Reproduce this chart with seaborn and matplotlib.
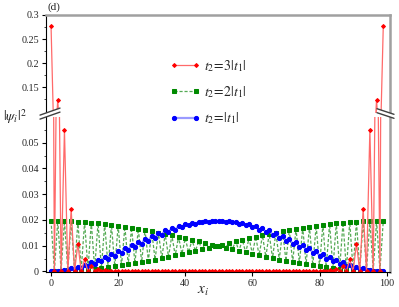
import numpy as np
import matplotlib
matplotlib.use("Agg")
import matplotlib.pyplot as plt
import seaborn as sns
from matplotlib.lines import Line2D
from matplotlib.patches import Polygon
from matplotlib.ticker import FuncFormatter

sns.set_style("ticks")
plt.rcParams["font.family"] = ["Liberation Serif", "DejaVu Serif"]
plt.rcParams["mathtext.fontset"] = "stix"

# site index
sites = np.arange(100)

# |psi_i|^2 for t2 = 3|t1| (edge states)
red_t3 = [
    0.278, 0.0, 0.124, 0.0, 0.055, 0.0, 0.0243, 0.0, 0.0108, 0.0,
    0.0047, 0.0, 0.0021, 0.0, 0.0009, 0.0, 0.0004, 0.0, 0.0002, 0.0,
    0.0, 0.0, 0.0, 0.0, 0.0, 0.0, 0.0, 0.0, 0.0, 0.0,
    0.0, 0.0, 0.0, 0.0, 0.0, 0.0, 0.0, 0.0, 0.0, 0.0,
    0.0, 0.0, 0.0, 0.0, 0.0, 0.0, 0.0, 0.0, 0.0, 0.0,
    0.0, 0.0, 0.0, 0.0, 0.0, 0.0, 0.0, 0.0, 0.0, 0.0,
    0.0, 0.0, 0.0, 0.0, 0.0, 0.0, 0.0, 0.0, 0.0, 0.0,
    0.0, 0.0, 0.0, 0.0, 0.0, 0.0, 0.0, 0.0, 0.0, 0.0,
    0.0, 0.0002, 0.0, 0.0004, 0.0, 0.0009, 0.0, 0.0021, 0.0, 0.0047,
    0.0, 0.0108, 0.0, 0.0243, 0.0, 0.055, 0.0, 0.124, 0.0, 0.278,
]

# t2 = 2|t1|
green_t2 = [
    0.01970, 0.00030, 0.01968, 0.00034, 0.01962, 0.00042, 0.01952, 0.00054, 0.01939, 0.00069,
    0.01922, 0.00088, 0.01901, 0.00111, 0.01876, 0.00138, 0.01848, 0.00168, 0.01816, 0.00201,
    0.01781, 0.00237, 0.01743, 0.00277, 0.01702, 0.00320, 0.01658, 0.00365, 0.01612, 0.00413,
    0.01563, 0.00463, 0.01511, 0.00515, 0.01458, 0.00569, 0.01403, 0.00625, 0.01346, 0.00683,
    0.01288, 0.00741, 0.01229, 0.00801, 0.01168, 0.00862, 0.01107, 0.00923, 0.01046, 0.00985,
    0.00985, 0.01046, 0.00923, 0.01107, 0.00862, 0.01168, 0.00801, 0.01229, 0.00741, 0.01288,
    0.00683, 0.01346, 0.00625, 0.01403, 0.00569, 0.01458, 0.00515, 0.01511, 0.00463, 0.01563,
    0.00413, 0.01612, 0.00365, 0.01658, 0.00320, 0.01702, 0.00277, 0.01743, 0.00237, 0.01781,
    0.00201, 0.01816, 0.00168, 0.01848, 0.00138, 0.01876, 0.00111, 0.01901, 0.00088, 0.01922,
    0.00069, 0.01939, 0.00054, 0.01952, 0.00042, 0.01962, 0.00034, 0.01968, 0.00030, 0.01970,
]

# t2 = |t1|
blue_t1 = [
    0.00006, 0.00001, 0.00030, 0.00013, 0.00068, 0.00041, 0.00121, 0.00086, 0.00187, 0.00143,
    0.00264, 0.00212, 0.00354, 0.00296, 0.00453, 0.00388, 0.00560, 0.00490, 0.00674, 0.00600,
    0.00792, 0.00714, 0.00912, 0.00834, 0.01035, 0.00956, 0.01155, 0.01078, 0.01274, 0.01198,
    0.01388, 0.01317, 0.01495, 0.01428, 0.01596, 0.01534, 0.01685, 0.01630, 0.01765, 0.01716,
    0.01832, 0.01791, 0.01886, 0.01854, 0.01926, 0.01903, 0.01952, 0.01938, 0.01962, 0.01958,
    0.01958, 0.01962, 0.01938, 0.01952, 0.01903, 0.01926, 0.01854, 0.01886, 0.01791, 0.01832,
    0.01716, 0.01765, 0.01630, 0.01685, 0.01534, 0.01596, 0.01428, 0.01495, 0.01317, 0.01388,
    0.01198, 0.01274, 0.01078, 0.01155, 0.00956, 0.01035, 0.00834, 0.00912, 0.00714, 0.00792,
    0.00600, 0.00674, 0.00490, 0.00560, 0.00388, 0.00453, 0.00296, 0.00354, 0.00212, 0.00264,
    0.00143, 0.00187, 0.00086, 0.00121, 0.00041, 0.00068, 0.00013, 0.00030, 0.00001, 0.00006,
]

legend_labels = [r"$t_2\!=\!3|t_1|$", r"$t_2\!=\!2|t_1|$", r"$t_2\!=\!|t_1|$"]
xticks = [0, 20, 40, 60, 80, 100]
yticks_low = [0, 0.01, 0.02, 0.03, 0.04, 0.05]
yticks_high = [0.15, 0.2, 0.25, 0.3]

W, H = 399, 307
fig = plt.figure(figsize=(W / 100, H / 100), dpi=100)


def box(x0, y0, x1, y1):
    return [x0 / W, 1 - y1 / H, (x1 - x0) / W, (y1 - y0) / H]


ax_top = fig.add_axes(box(46, 15, 390, 113))
ax_bot = fig.add_axes(box(46, 117, 390, 272))

common = dict(estimator=None, errorbar=None, legend=False)

sns.lineplot(x=sites, y=green_t2, ax=ax_bot, color="#55aa55", lw=0.9,
             linestyle=(0, (2.5, 1.5)), marker="s", markersize=2.5,
             markerfacecolor="#008a00", markeredgecolor="#008a00", **common)
sns.lineplot(x=sites, y=blue_t1, ax=ax_bot, color="#9a9aff", lw=1.6,
             marker="o", markersize=3.0,
             markerfacecolor="#0000ff", markeredgecolor="#0000ff", **common)
for ax in (ax_bot, ax_top):
    sns.lineplot(x=sites, y=red_t3, ax=ax, color="#ff6a6a", lw=0.9,
                 marker="D", markersize=2.0,
                 markerfacecolor="#ff0000", markeredgecolor="#ff0000", **common)

fmt = FuncFormatter(lambda v, p: f"{v:g}")
for ax in (ax_top, ax_bot):
    ax.set_xlim(-1.5, 101)
    ax.set_xlabel("")
    ax.set_ylabel("")
    ax.yaxis.set_major_formatter(fmt)
    ax.tick_params(which="major", direction="out", length=3, width=0.8,
                   labelsize=7.3, pad=2, color="black")
    ax.tick_params(which="minor", direction="out", length=1.5, width=0.6)
    ax.spines["left"].set_color("black")
    ax.spines["left"].set_linewidth(0.8)
    ax.spines["right"].set_color("#a0a0a0")
    ax.spines["right"].set_linewidth(1.8)

ax_top.set_ylim(0.096, 0.3)
ax_top.set_yticks(yticks_high)
ax_top.set_yticks([0.125, 0.175, 0.225, 0.275], minor=True)
ax_top.spines["bottom"].set_visible(False)
ax_top.spines["top"].set_color("#a0a0a0")
ax_top.spines["top"].set_linewidth(1.8)
ax_top.tick_params(axis="x", which="both", bottom=False, labelbottom=False)

ax_bot.set_ylim(-0.0002, 0.06)
ax_bot.set_yticks(yticks_low)
ax_bot.set_yticks([0.005, 0.015, 0.025, 0.035, 0.045, 0.055], minor=True)
ax_bot.set_xticks(xticks)
ax_bot.spines["top"].set_visible(False)
ax_bot.spines["bottom"].set_color("black")
ax_bot.spines["bottom"].set_linewidth(0.8)

# axis break marks
def tf(x, y):
    return (x / W, 1 - y / H)


for (xa, xb, slope) in [(40, 60, -0.35), (377, 394, 0.33)]:
    xc = 46 if slope < 0 else 390
    pts = []
    for yc in (113, 117):
        ya = yc + slope * (xa - xc)
        yb = yc + slope * (xb - xc)
        pts.append((tf(xa, ya), tf(xb, yb)))
    poly = Polygon([pts[0][0], pts[0][1], pts[1][1], pts[1][0]], closed=True,
                   transform=fig.transFigure, facecolor="white", edgecolor="none",
                   zorder=5)
    fig.add_artist(poly)
    for p0, p1 in pts:
        fig.add_artist(Line2D([p0[0], p1[0]], [p0[1], p1[1]], transform=fig.transFigure,
                              color="#404040", lw=1.0, zorder=6))

handles = [ax_bot.lines[2], ax_bot.lines[0], ax_bot.lines[1]]
fig.legend(handles, legend_labels, loc="upper left", bbox_to_anchor=(170 / W, 1 - 58 / H),
           frameon=False, numpoints=2, handlelength=2.2, handletextpad=0.25,
           labelspacing=0.75, fontsize=10, borderaxespad=0, borderpad=0)

fig.text(3 / W, 1 - 117 / H, r"$|\psi_i|^2$", fontsize=10, va="center", ha="left")
fig.text(48 / W, 1 - 7 / H, "(d)", fontsize=8, va="center", ha="left")
fig.text(203 / W, 1 - 291 / H, r"$x_i$", fontsize=11, va="center", ha="center")

fig.savefig("out.png", dpi=100)
